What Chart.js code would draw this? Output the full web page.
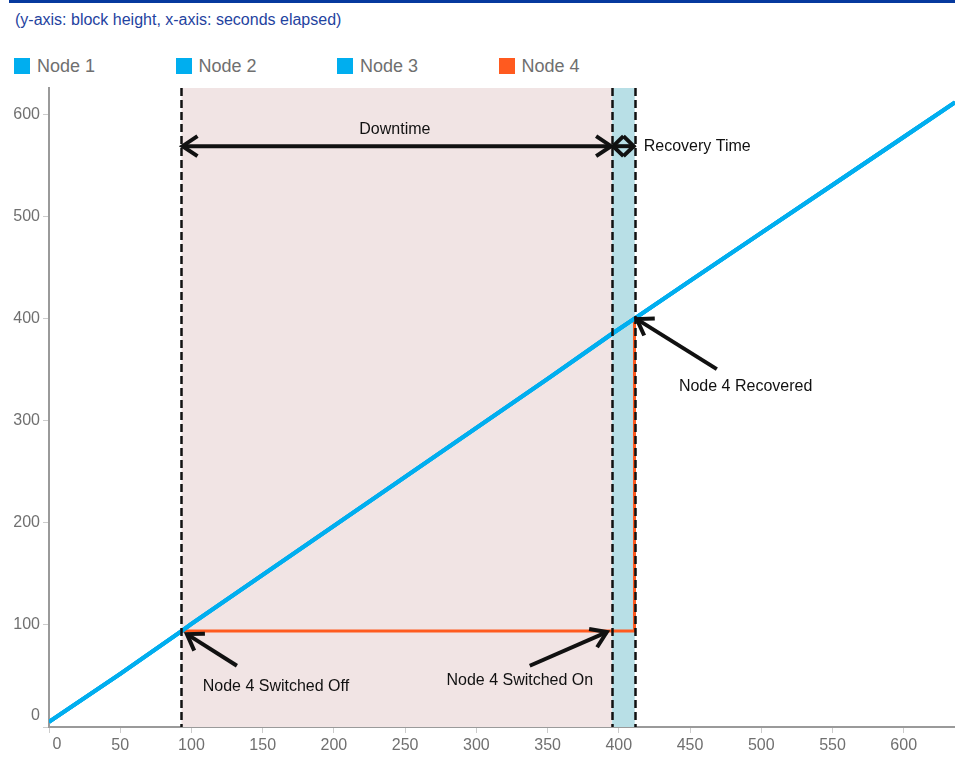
<!DOCTYPE html>
<html>
<head>
<meta charset="utf-8">
<script src="https://cdn.jsdelivr.net/npm/chart.js@4"></script>
<style>
  body { margin: 0; background: #fff; font-family: "Liberation Sans", Arial, sans-serif; }
  #wrap { position: relative; width: 955px; height: 770px; overflow: hidden; }
  #topbar { position: absolute; left: 9px; top: 0; width: 946px; height: 3px; background: #06399e; }
  #subtitle { position: absolute; left: 15px; top: 11px; font-size: 16px; color: #1f43a0; white-space: nowrap; }
  #legend { position: absolute; left: 0; top: 56px; height: 20px; }
  .item { position: absolute; top: 0; white-space: nowrap; font-size: 18px; color: #6f6f6f; line-height: 20px; }
  .item span.box { position: absolute; left: 0; top: 2px; width: 16px; height: 16px; }
  .item span.txt { position: absolute; left: 23px; top: 0; }
  canvas { position: absolute; left: 0; top: 0; }
</style>
</head>
<body>
<div id="wrap">
  <div id="topbar"></div>
  <div id="subtitle">(y-axis: block height, x-axis: seconds elapsed)</div>
  <div id="legend"></div>
  <canvas id="chart" width="955" height="770"></canvas>
</div>
<script>
// Data
const seconds = [0, 50, 93, 100, 150, 200, 250, 300, 350, 395, 411, 450, 500, 550, 600, 636];
const node1 = [5, 52, 94, 101, 149, 197, 245, 293, 341, 385, 400, 437, 484, 531, 578, 612];
const node2 = [5, 52, 94, 101, 149, 197, 245, 293, 341, 385, 400, 437, 484, 531, 578, 612];
const node3 = [5, 52, 94, 101, 149, 197, 245, 293, 341, 385, 400, 437, 484, 531, 578, 612];
const node4Seconds = [0, 50, 93, 150, 250, 350, 395, 411, 411, 450, 500, 550, 600, 636];
const node4 = [5, 52, 94, 94, 94, 94, 94, 94, 400, 437, 484, 531, 578, 612];

const seriesNames = ['Node 1', 'Node 2', 'Node 3', 'Node 4'];
const seriesColors = ['#00aeef', '#00aeef', '#00aeef', '#ff5a1f'];

const xTickValues = [0, 50, 100, 150, 200, 250, 300, 350, 400, 450, 500, 550, 600];
const yTickValues = [0, 100, 200, 300, 400, 500, 600];

// Event markers (seconds)
const switchOff = 93;
const switchOn = 395.3;
const recovered = 411.2;

// Annotation texts and arrows, in data units
const arrowY = 569;
const labels = [
    { text: 'Downtime', x: 242.8, y: 585, align: 'center' },
    { text: 'Recovery Time', x: 417.5, y: 569, align: 'left' },
    { text: 'Node 4 Recovered', x: 489, y: 333, align: 'center' },
    { text: 'Node 4 Switched Off', x: 159.3, y: 40, align: 'center' },
    { text: 'Node 4 Switched On', x: 330.5, y: 45, align: 'center' }
];
const pointers = [
    { fromX: 131.9, fromY: 60, toX: 96.8, toY: 91 },
    { fromX: 337.5, fromY: 60, toX: 391.6, toY: 93 },
    { fromX: 468.8, fromY: 350.6, toX: 412.6, toY: 399.6 }
];

// Legend
const legend = document.getElementById('legend');
seriesNames.forEach((name, i) => {
    const item = document.createElement('div');
    item.className = 'item';
    item.style.left = (14 + i * 161.5) + 'px';
    item.innerHTML = `<span class="box" style="background:${seriesColors[i]}"></span><span class="txt">${name}</span>`;
    legend.appendChild(item);
});

// open chevron head: 'back' along the shaft, 'side' across it
function arrowHead(ctx, tx, ty, fx, fy, back) {
    const a = Math.atan2(ty - fy, tx - fx);
    const side = 10;
    const cx = tx - back * Math.cos(a), cy = ty - back * Math.sin(a);
    ctx.beginPath();
    ctx.moveTo(cx - side * Math.sin(a), cy + side * Math.cos(a));
    ctx.lineTo(tx, ty);
    ctx.lineTo(cx + side * Math.sin(a), cy - side * Math.cos(a));
    ctx.stroke();
}

function arrow(ctx, fx, fy, tx, ty, both) {
    const len = Math.hypot(tx - fx, ty - fy);
    const back = Math.min(15, both ? len / 2 : len);
    ctx.beginPath();
    ctx.moveTo(fx, fy);
    ctx.lineTo(tx, ty);
    ctx.stroke();
    arrowHead(ctx, tx, ty, fx, fy, back);
    if (both) arrowHead(ctx, fx, fy, tx, ty, back);
}

const annotations = {
    id: 'annotations',
    beforeDatasetsDraw(chart) {
        const { ctx, chartArea, scales: { x } } = chart;
        ctx.save();
        ctx.fillStyle = '#f1e4e4';
        ctx.fillRect(x.getPixelForValue(switchOff), chartArea.top,
            x.getPixelForValue(switchOn) - x.getPixelForValue(switchOff), chartArea.bottom - chartArea.top);
        ctx.fillStyle = '#b8dfe6';
        ctx.fillRect(x.getPixelForValue(switchOn), chartArea.top,
            x.getPixelForValue(recovered) - x.getPixelForValue(switchOn), chartArea.bottom - chartArea.top);
        ctx.restore();
    },
    afterDatasetsDraw(chart) {
        const { ctx, chartArea, scales: { x, y } } = chart;
        ctx.save();
        // dashed markers
        ctx.strokeStyle = '#111';
        ctx.lineWidth = 2.5;
        ctx.setLineDash([8, 4]);
        [switchOff, switchOn, recovered].forEach(v => {
            const px = Math.round(x.getPixelForValue(v)) + 0.5;
            ctx.beginPath();
            ctx.moveTo(px, chartArea.top);
            ctx.lineTo(px, chartArea.bottom);
            ctx.stroke();
        });
        ctx.setLineDash([]);

        // arrows
        ctx.lineWidth = 4;
        ctx.lineCap = 'butt';
        ctx.lineJoin = 'miter';
        const ay = y.getPixelForValue(arrowY);
        arrow(ctx, x.getPixelForValue(switchOff) + 1, ay, x.getPixelForValue(switchOn) - 1, ay, true);
        arrow(ctx, x.getPixelForValue(switchOn) + 1, ay, x.getPixelForValue(recovered) - 1, ay, true);
        pointers.forEach(p => {
            arrow(ctx, x.getPixelForValue(p.fromX), y.getPixelForValue(p.fromY),
                x.getPixelForValue(p.toX), y.getPixelForValue(p.toY), false);
        });

        // texts
        ctx.fillStyle = '#111';
        ctx.font = '16px "Liberation Sans", Arial, sans-serif';
        ctx.textBaseline = 'middle';
        labels.forEach(l => {
            ctx.textAlign = l.align;
            ctx.fillText(l.text, x.getPixelForValue(l.x), y.getPixelForValue(l.y));
        });
        ctx.restore();
    },
    afterDraw(chart) {
        // the "0" labels sit inside the corner, nudged off the origin
        const { ctx, scales: { x, y } } = chart;
        ctx.save();
        ctx.fillStyle = '#707070';
        ctx.font = '16px "Liberation Sans", Arial, sans-serif';
        ctx.textBaseline = 'middle';
        ctx.textAlign = 'right';
        ctx.fillText('0', x.left - 9, y.getPixelForValue(0) - 11);
        ctx.textAlign = 'center';
        ctx.fillText('0', x.getPixelForValue(0) + 8, y.bottom + 18);
        ctx.restore();
    }
};

const tickFont = { family: '"Liberation Sans", Arial, sans-serif', size: 16 };
const hideZero = v => (v === 0 ? '' : v);

new Chart(document.getElementById('chart'), {
    type: 'line',
    data: {
        datasets: [
            { label: seriesNames[0], data: seconds.map((s, i) => ({ x: s, y: node1[i] })), borderColor: seriesColors[0] },
            { label: seriesNames[1], data: seconds.map((s, i) => ({ x: s, y: node2[i] })), borderColor: seriesColors[1] },
            { label: seriesNames[2], data: seconds.map((s, i) => ({ x: s, y: node3[i] })), borderColor: seriesColors[2] },
            { label: seriesNames[3], data: node4Seconds.map((s, i) => ({ x: s, y: node4[i] })), borderColor: seriesColors[3], borderWidth: 3 }
        ]
    },
    options: {
        responsive: false,
        animation: false,
        devicePixelRatio: 1,
        layout: { padding: { top: 88, right: 0, left: 0, bottom: 0 } },
        elements: {
            line: { borderWidth: 4, tension: 0, fill: false },
            point: { radius: 0 }
        },
        plugins: { legend: { display: false }, tooltip: { enabled: false } },
        scales: {
            x: {
                type: 'linear',
                min: 0,
                max: 636,
                afterBuildTicks: scale => { scale.ticks = xTickValues.map(v => ({ value: v })); },
                afterFit: scale => { scale.height = 43; },
                ticks: { color: '#707070', font: tickFont, padding: 3, maxRotation: 0, callback: hideZero },
                grid: { drawOnChartArea: false, drawTicks: true, tickLength: 6, color: '#cccccc' },
                border: { display: true, color: '#9a9a9a', width: 2 }
            },
            y: {
                min: 0,
                max: 626,
                afterBuildTicks: scale => { scale.ticks = yTickValues.map(v => ({ value: v })); },
                afterFit: scale => { scale.width = 49; },
                ticks: { color: '#707070', font: tickFont, padding: 3, callback: hideZero },
                grid: { drawOnChartArea: false, drawTicks: true, tickLength: 6, color: '#cccccc' },
                border: { display: true, color: '#9a9a9a', width: 2 }
            }
        }
    },
    plugins: [annotations]
});
</script>
</body>
</html>
